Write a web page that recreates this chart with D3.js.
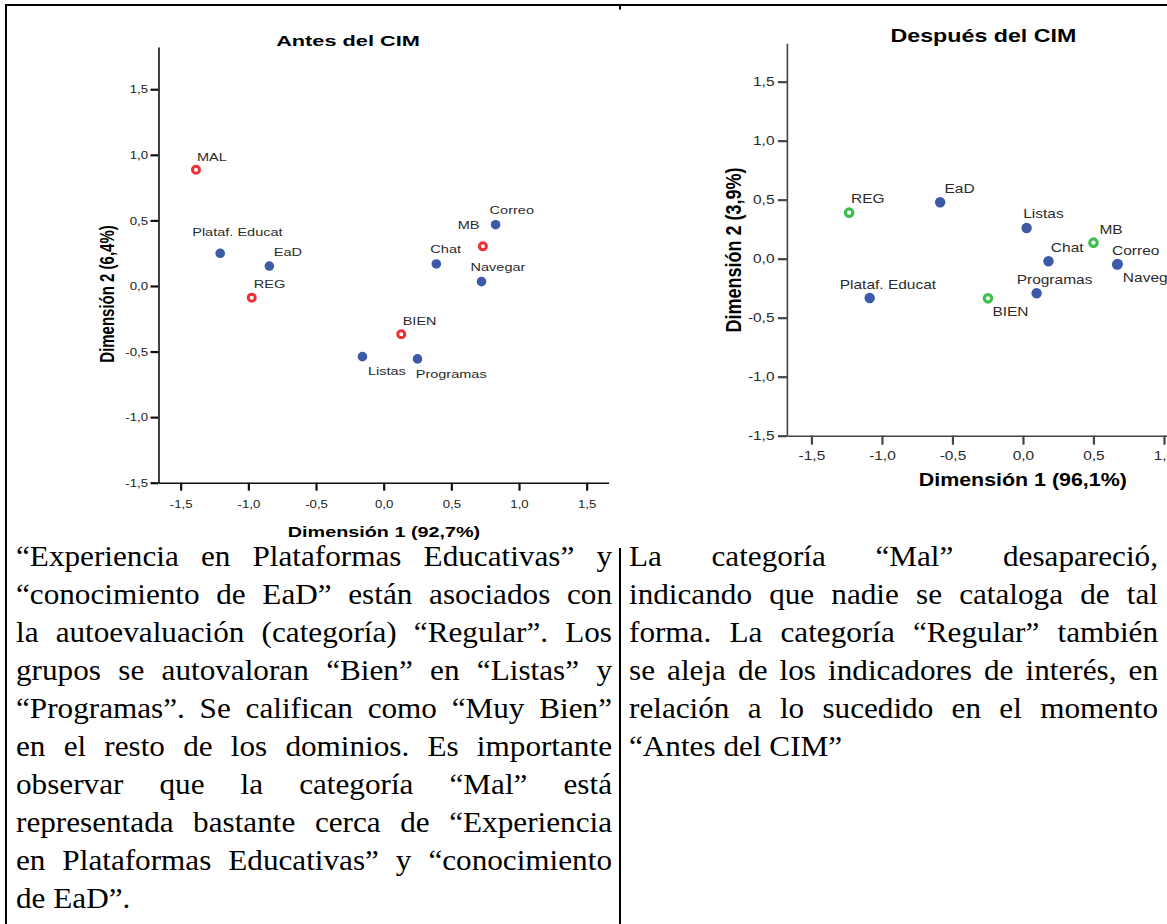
<!DOCTYPE html>
<html><head><meta charset="utf-8">
<script src="https://cdn.jsdelivr.net/npm/d3@7"></script>
<style>html,body{margin:0;padding:0;background:#fff;overflow:hidden;width:1167px;height:924px}svg{display:block}</style>
</head><body><svg id="c" width="1167" height="924"></svg>
<script>
// ---------- data ----------
const titleBefore = "Antes del CIM";
const titleAfter = "Después del CIM";
const xTitleBefore = "Dimensión 1 (92,7%)";
const yTitleBefore = "Dimensión 2 (6,4%)";
const xTitleAfter = "Dimensión 1 (96,1%)";
const yTitleAfter = "Dimensión 2 (3,9%)";
const tickValues = [-1.5, -1.0, -0.5, 0.0, 0.5, 1.0, 1.5];

const beforeNames = ["MAL", "Plataf. Educat", "EaD", "REG", "Chat", "Correo", "MB", "Navegar", "BIEN", "Listas", "Programas"];
const beforeDim1  = [-1.387, -1.208, -0.845, -0.975, 0.389, 0.827, 0.733, 0.723, 0.130, -0.157, 0.250];
const beforeDim2  = [0.886, 0.249, 0.152, -0.089, 0.168, 0.467, 0.302, 0.033, -0.368, -0.539, -0.556];
const beforeType  = ["cat", "ind", "ind", "cat", "ind", "ind", "cat", "ind", "cat", "ind", "ind"];

const afterNames = ["REG", "EaD", "Listas", "MB", "Chat", "Correo", "Navegar", "Programas", "BIEN", "Plataf. Educat"];
const afterDim1  = [-1.233, -0.587, 0.026, 0.500, 0.181, 0.672, 0.668, 0.097, -0.248, -1.087];
const afterDim2  = [0.390, 0.478, 0.260, 0.136, -0.022, -0.045, -0.049, -0.293, -0.336, -0.333];
const afterType  = ["cat", "ind", "ind", "cat", "ind", "ind", "ind", "ind", "cat", "ind"];

const leftLines = [
  "“Experiencia en Plataformas Educativas” y",
  "“conocimiento de EaD” están asociados con",
  "la autoevaluación (categoría) “Regular”.  Los",
  "grupos se autovaloran “Bien” en “Listas” y",
  "“Programas”. Se califican como “Muy Bien”",
  "en el resto de los dominios. Es importante",
  "observar que la categoría “Mal” está",
  "representada bastante cerca de “Experiencia",
  "en Plataformas Educativas” y “conocimiento",
  "de EaD”."
];
const rightLines = [
  "La categoría “Mal” desapareció,",
  "indicando que nadie se cataloga de tal",
  "forma. La categoría “Regular” también",
  "se aleja de los indicadores de interés, en",
  "relación a lo sucedido en el momento",
  "“Antes del CIM”"
];

// ---------- layout (label placement, px relative to the point) ----------
const beforeLabelPos = {
  "MAL": [1, -9, "start"], "Plataf. Educat": [-28, -17, "start"], "EaD": [4.5, -9.7, "start"],
  "REG": [2, -9.7, "start"], "Chat": [-6, -11, "start"], "Correo": [-6, -10.4, "start"],
  "MB": [-3.4, -17.6, "end"], "Navegar": [-11, -10.7, "start"], "BIEN": [1.4, -9.3, "start"],
  "Listas": [5.5, 18.3, "start"], "Programas": [-1.8, 19, "start"]
};
const afterLabelPos = {
  "REG": [2, -9.2, "start"], "EaD": [4.3, -8.8, "start"], "Listas": [-3.4, -9.8, "start"],
  "MB": [6, -8.2, "start"], "Chat": [2.4, -9.5, "start"], "Correo": [-5.7, -9.1, "start"],
  "Navegar": [5.7, 17.5, "start"], "Programas": [-20, -9.5, "start"], "BIEN": [4.4, 17.5, "start"],
  "Plataf. Educat": [-30, -9.2, "start"]
};

const FONT = "'Liberation Sans', Arial, sans-serif";
const SERIF = "'Liberation Serif', 'Times New Roman', serif";
const fmt = d3.formatLocale({decimal: ",", thousands: ".", grouping: [3], currency: ["", ""], minus: "-"}).format(".1f");

const svg = d3.select("#c");

// table borders
const border = svg.append("g").attr("stroke", "#000").attr("stroke-width", 2);
border.append("line").attr("x1", 5).attr("x2", 1167).attr("y1", 5).attr("y2", 5);
border.append("line").attr("x1", 6).attr("x2", 6).attr("y1", 4).attr("y2", 924);
border.append("line").attr("x1", 620).attr("x2", 620).attr("y1", 5).attr("y2", 9.5);
border.append("line").attr("x1", 620).attr("x2", 620).attr("y1", 548).attr("y2", 924);

function sText(parent, x, y, str, o) {
  return parent.append("text")
    .attr("transform", `translate(${x},${y}) ${o.rotate ? "rotate(-90)" : ""} scale(${o.sx || 1},${o.sy || 1})`)
    .attr("text-anchor", o.anchor || "middle")
    .style("font-family", FONT)
    .style("font-size", o.size + "px")
    .style("font-weight", o.weight || "normal")
    .attr("fill", o.fill || "#000")
    .text(str);
}

function drawChart(cfg) {
  const g = svg.append("g");
  const x = d3.scaleLinear().domain(cfg.xDomain).range(cfg.xRange);
  const y = d3.scaleLinear().domain(cfg.yDomain).range(cfg.yRange);

  const xAxis = g.append("g").attr("transform", `translate(0,${y(cfg.yDomain[0])})`)
    .call(d3.axisBottom(x).tickValues(tickValues).tickFormat(fmt)
      .tickSize(cfg.tick).tickSizeOuter(0).tickPadding(cfg.xPad));
  const yAxis = g.append("g").attr("transform", `translate(${x(cfg.xDomain[0])},0)`)
    .call(d3.axisLeft(y).tickValues(tickValues).tickFormat(fmt)
      .tickSize(cfg.tick).tickSizeOuter(0));
  [xAxis, yAxis].forEach(a => {
    a.select(".domain").attr("stroke", cfg.axisColor).attr("stroke-width", 1.6);
    a.selectAll(".tick line").attr("stroke", cfg.axisColor).attr("stroke-width", 2.2);
    a.selectAll(".tick text").attr("fill", cfg.tickColor)
      .style("font-family", FONT).style("font-size", cfg.tickFont + "px");
  });
  xAxis.selectAll(".tick text").attr("transform", `scale(${cfg.tickSx},1)`);
  yAxis.selectAll(".tick text").attr("transform", `scale(${cfg.tickSx},1)`)
    .attr("x", -cfg.yLabelGap / cfg.tickSx);

  sText(g, cfg.title.x, cfg.title.y, cfg.title.text, {size: cfg.title.size, weight: "bold", sx: cfg.title.sx});
  sText(g, cfg.xTitle.x, cfg.xTitle.y, cfg.xTitle.text, {size: cfg.xTitle.size, weight: "bold", sx: cfg.xTitle.sx});
  sText(g, cfg.yTitle.x, cfg.yTitle.y, cfg.yTitle.text, {size: cfg.yTitle.size, weight: "bold", rotate: true, sy: cfg.yTitle.sy});

  const pts = cfg.names.map((n, i) => ({name: n, d1: cfg.d1[i], d2: cfg.d2[i], type: cfg.types[i]}));
  g.selectAll("circle.ind").data(pts.filter(p => p.type === "ind")).join("circle")
    .attr("class", "ind").attr("cx", p => x(p.d1)).attr("cy", p => y(p.d2))
    .attr("r", cfg.r).attr("fill", "#3d5aa8");
  g.selectAll("circle.cat").data(pts.filter(p => p.type === "cat")).join("circle")
    .attr("class", "cat").attr("cx", p => x(p.d1)).attr("cy", p => y(p.d2))
    .attr("r", cfg.ring.r).attr("fill", "#fff").attr("stroke", cfg.ring.color).attr("stroke-width", cfg.ring.w);
  pts.forEach(p => {
    const lp = cfg.labelPos[p.name];
    sText(g, x(p.d1) + lp[0], y(p.d2) + lp[1], p.name,
      {size: cfg.labelSize, sx: cfg.labelSx, anchor: lp[2], fill: "#2b2b2b"});
  });
}

drawChart({
  names: beforeNames, d1: beforeDim1, d2: beforeDim2, types: beforeType, labelPos: beforeLabelPos,
  xDomain: [-1.664, 1.662], xRange: [158.5, 608.6],
  yDomain: [-1.5, 1.822], yRange: [482.7, 47],
  axisColor: "#111", tickColor: "#222", tick: 8, tickFont: 11.5, tickSx: 1.15, yLabelGap: 10.5, xPad: 9.2,
  title: {text: titleBefore, x: 348, y: 45.7, size: 15, sx: 1.45},
  xTitle: {text: xTitleBefore, x: 384, y: 537.3, size: 15, sx: 1.32},
  yTitle: {text: yTitleBefore, x: 114, y: 294, size: 15, sy: 1.32},
  labelSize: 11, labelSx: 1.32, r: 4.8, ring: {r: 3.5, w: 3, color: "#ee2f36"}
});

drawChart({
  names: afterNames, d1: afterDim1, d2: afterDim2, types: afterType, labelPos: afterLabelPos,
  xDomain: [-1.674, 1.674], xRange: [786.9, 1259.0],
  yDomain: [-1.5, 1.825], yRange: [435.7, 43.3],
  axisColor: "#444", tickColor: "#2a2a2a", tick: 9, tickFont: 13, tickSx: 1.19, yLabelGap: 12.4, xPad: 5.6,
  title: {text: titleAfter, x: 983.4, y: 41.7, size: 18, sx: 1.29},
  xTitle: {text: xTitleAfter, x: 1022.8, y: 485.7, size: 18, sx: 1.19},
  yTitle: {text: yTitleAfter, x: 741, y: 250, size: 18, sy: 1.19},
  labelSize: 12.5, labelSx: 1.24, r: 5.2, ring: {r: 3.7, w: 3.2, color: "#3dbf4c"}
});

// ---------- justified paragraphs ----------
function paragraph(lines, x0, width, y0, lh, size, sx) {
  const col = svg.append("g").attr("transform", `translate(${x0},0) scale(${sx},1)`)
    .style("font-family", SERIF).style("font-size", size + "px").attr("fill", "#000");
  const inner = width / sx;
  const space = size * 0.25;
  lines.forEach((line, i) => {
    const words = line.split(/\s+/);
    const yy = y0 + i * lh;
    const nodes = words.map(w => col.append("text").attr("y", yy).text(w));
    const ws = nodes.map(n => n.node().getComputedTextLength());
    const total = d3.sum(ws);
    const last = i === lines.length - 1;
    const gap = (last || words.length < 2) ? space : (inner - total) / (words.length - 1);
    let cx = 0;
    nodes.forEach((n, k) => { n.attr("x", cx); cx += ws[k] + gap; });
  });
}
paragraph(leftLines, 16, 596, 566, 38, 30, 1.04);
paragraph(rightLines, 629, 529, 566, 38, 30, 1.04);
</script></body></html>
